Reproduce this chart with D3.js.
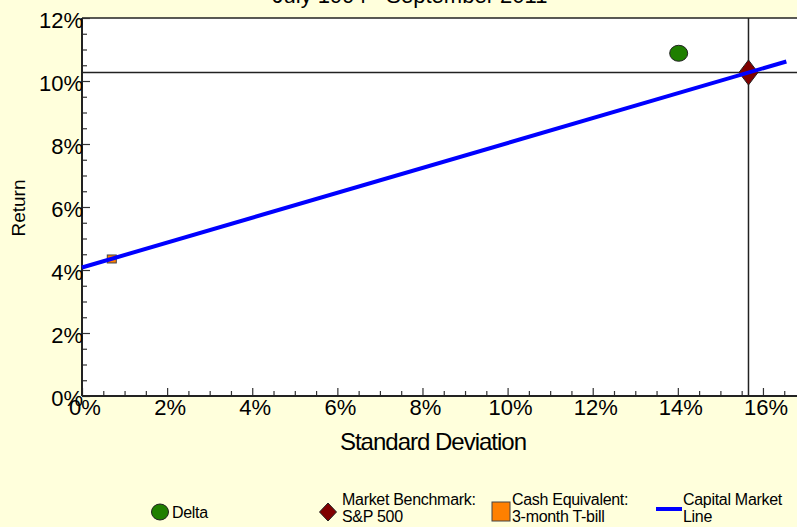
<!DOCTYPE html>
<html>
<head>
<meta charset="utf-8">
<script src="https://cdn.jsdelivr.net/npm/d3@7"></script>
<style>
  body { margin: 0; background: #ffffdc; }
  text { font-family: "Liberation Sans", Arial, sans-serif; fill: #000; }
</style>
</head>
<body>
<div id="chart"></div>
<script>
// Chart data
const deltaPoints = [{ sd: 14.02, ret: 10.88 }];
const benchmarkPoints = [{ sd: 15.66, ret: 10.27 }];
const cashPoints = [{ sd: 0.70, ret: 4.35 }];
const cmlPoints = [{ sd: 0, ret: 4.08 }, { sd: 16.55, ret: 10.62 }];
const xTicks = [0, 2, 4, 6, 8, 10, 12, 14, 16];
const yTicks = [0, 2, 4, 6, 8, 10, 12];
const legendNames = [["Delta"], ["Market Benchmark:", "S&P 500"], ["Cash Equivalent:", "3-month T-bill"], ["Capital Market", "Line"]];

// Size and plot area
const width = 797;
const height = 527;
const plot = { left: 82, right: 797, top: 18, bottom: 396 };

const xScale = d3.scaleLinear().domain([0, 16.8]).range([plot.left, plot.right]);
const yScale = d3.scaleLinear().domain([0, 12]).range([plot.bottom, plot.top]);

let svg = d3.select("#chart")
  .append("svg")
  .attr("width", width)
  .attr("height", height);

svg.append("rect")
  .attr("width", width)
  .attr("height", height)
  .attr("fill", "#ffffdc");

// Title (top line cut off in the original)
svg.append("text")
  .attr("x", 410)
  .attr("y", 3)
  .attr("text-anchor", "middle")
  .style("font-size", "22px")
  .text("July 1994 - September 2011");

// Plot background
svg.append("rect")
  .attr("x", plot.left)
  .attr("y", plot.top)
  .attr("width", plot.right - plot.left)
  .attr("height", plot.bottom - plot.top)
  .attr("fill", "#fff");

// Top border
svg.append("line")
  .attr("x1", plot.left).attr("x2", plot.right)
  .attr("y1", plot.top).attr("y2", plot.top)
  .attr("stroke", "#222").attr("stroke-width", 1.5);

// Crosshair at the market benchmark
svg.append("line")
  .attr("x1", plot.left).attr("x2", plot.right)
  .attr("y1", yScale(benchmarkPoints[0].ret)).attr("y2", yScale(benchmarkPoints[0].ret))
  .attr("stroke", "#222").attr("stroke-width", 1.5);
svg.append("line")
  .attr("x1", xScale(benchmarkPoints[0].sd)).attr("x2", xScale(benchmarkPoints[0].sd))
  .attr("y1", plot.top).attr("y2", plot.bottom)
  .attr("stroke", "#222").attr("stroke-width", 1.5);

// Axes: ticks point into the plot
let xAxis = d3.axisTop(xScale).tickValues(d3.range(0, 16.6, 0.5)).tickSize(5).tickFormat("");
let xg = svg.append("g").attr("transform", `translate(0,${plot.bottom})`).call(xAxis);
xg.selectAll(".tick line").attr("stroke", "#333").attr("stroke-width", 1.2)
  .attr("y2", d => (d % 2 === 0 ? -8 : -5));
xg.select(".domain").remove();

let yAxis = d3.axisRight(yScale).tickValues(d3.range(0, 12.1, 0.5)).tickSize(5).tickFormat("");
let yg = svg.append("g").attr("transform", `translate(${plot.left},0)`).call(yAxis);
yg.selectAll(".tick line").attr("stroke", "#333").attr("stroke-width", 1.2)
  .attr("x2", d => (d % 2 === 0 ? 8 : 5));
yg.select(".domain").remove();

svg.append("line")
  .attr("x1", plot.left).attr("x2", plot.right)
  .attr("y1", plot.bottom).attr("y2", plot.bottom)
  .attr("stroke", "#222").attr("stroke-width", 2);
svg.append("line")
  .attr("x1", plot.left).attr("x2", plot.left)
  .attr("y1", plot.top).attr("y2", plot.bottom)
  .attr("stroke", "#222").attr("stroke-width", 2);

// Tick labels
svg.selectAll("text.xlabel")
  .data(xTicks)
  .enter()
  .append("text")
  .attr("class", "xlabel")
  .attr("x", d => xScale(d) + 3)
  .attr("y", plot.bottom + 19)
  .attr("text-anchor", "middle")
  .style("font-size", "22px")
  .text(d => d + "%");

svg.selectAll("text.ylabel")
  .data(yTicks)
  .enter()
  .append("text")
  .attr("class", "ylabel")
  .attr("x", plot.left + 1)
  .attr("y", d => yScale(d) + 10)
  .attr("text-anchor", "end")
  .style("font-size", "22px")
  .text(d => d + "%");

// Axis titles
svg.append("text")
  .attr("x", 433)
  .attr("y", 450)
  .attr("text-anchor", "middle")
  .style("font-size", "24px")
  .style("letter-spacing", "-1px")
  .text("Standard Deviation");

svg.append("text")
  .attr("transform", "translate(25,208) rotate(-90)")
  .attr("text-anchor", "middle")
  .style("font-size", "19px")
  .text("Return");

// Markers
function diamond(hw, hh) {
  return `M0,${-hh}L${hw},0L0,${hh}L${-hw},0Z`;
}

svg.selectAll("ellipse.delta")
  .data(deltaPoints)
  .enter()
  .append("ellipse")
  .attr("class", "delta")
  .attr("cx", d => xScale(d.sd))
  .attr("cy", d => yScale(d.ret))
  .attr("rx", 9)
  .attr("ry", 8)
  .attr("fill", "#1f7f00")
  .attr("stroke", "#222");

svg.selectAll("path.bench")
  .data(benchmarkPoints)
  .enter()
  .append("path")
  .attr("class", "bench")
  .attr("d", diamond(9.5, 12.5))
  .attr("transform", d => `translate(${xScale(d.sd)},${yScale(d.ret)})`)
  .attr("fill", "#800000")
  .attr("stroke", "#222");

svg.selectAll("rect.cash")
  .data(cashPoints)
  .enter()
  .append("rect")
  .attr("class", "cash")
  .attr("x", d => xScale(d.sd) - 4.5)
  .attr("y", d => yScale(d.ret) - 4)
  .attr("width", 9)
  .attr("height", 8)
  .attr("fill", "#ff8000")
  .attr("stroke", "#444");

// Capital market line
svg.append("path")
  .datum(cmlPoints)
  .attr("d", d3.line().x(d => xScale(d.sd)).y(d => yScale(d.ret)))
  .attr("fill", "none")
  .attr("stroke", "#0000ff")
  .attr("stroke-width", 4);

// Legend
let legend = svg.append("g");
legend.append("ellipse")
  .attr("cx", 160).attr("cy", 512).attr("rx", 8.5).attr("ry", 8)
  .attr("fill", "#1f7f00").attr("stroke", "#222");
legend.append("path")
  .attr("d", diamond(8.5, 9))
  .attr("transform", "translate(328,512)")
  .attr("fill", "#800000").attr("stroke", "#222");
legend.append("rect")
  .attr("x", 492).attr("y", 502).attr("width", 18).attr("height", 19)
  .attr("fill", "#ff8000").attr("stroke", "#444");
legend.append("line")
  .attr("x1", 656).attr("x2", 682).attr("y1", 509).attr("y2", 509)
  .attr("stroke", "#0000ff").attr("stroke-width", 4);

const legendPos = [{ x: 172, y: 518 }, { x: 342, y: 505 }, { x: 512, y: 505 }, { x: 683, y: 505 }];
legendNames.forEach((lines, i) => {
  let t = legend.append("text")
    .attr("x", legendPos[i].x)
    .attr("y", legendPos[i].y)
    .style("font-size", "16px")
    .style("letter-spacing", "-0.3px");
  lines.forEach((s, j) => {
    t.append("tspan")
      .attr("x", legendPos[i].x)
      .attr("dy", j === 0 ? 0 : 17)
      .text(s);
  });
});
</script>
</body>
</html>
